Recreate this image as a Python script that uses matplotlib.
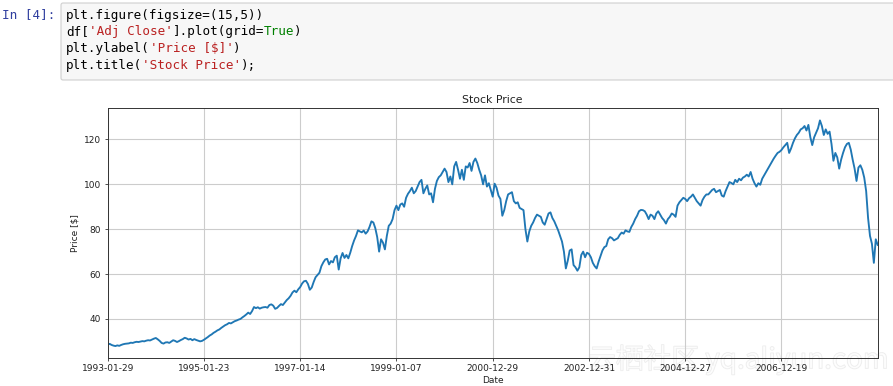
import numpy as np
import matplotlib
matplotlib.use('Agg')
import matplotlib.pyplot as plt
from matplotlib.patches import FancyBboxPatch
from matplotlib.transforms import IdentityTransform
import matplotlib.patheffects as pe

# ---------------- data ----------------
tick_dates = ['1993-01-29', '1995-01-23', '1997-01-14', '1999-01-07',
              '2000-12-29', '2002-12-31', '2004-12-27', '2006-12-19']
tick_rows = [0, 500, 1000, 1500, 2000, 2500, 3000, 3500]   # row number of each date
sample_every = 10                                          # trading days between stored prices
n_rows = 4001

adj_close_1993_1996 = [
    28.5, 28.9, 28.4, 28.1, 27.9, 28.2, 28.0, 28.4, 28.7, 28.9, 29.0,
    29.1, 29.4, 29.3, 29.6, 29.8, 29.7, 29.9, 30.1, 30.0, 30.3,
    30.5, 30.4, 30.8, 31.2, 31.5, 30.9, 30.2, 29.3, 29.0, 29.5,
    29.6, 29.3, 29.9, 30.5, 30.2, 29.7, 30.1, 30.6, 31.0, 31.6,
    31.3, 30.8, 31.1, 30.5, 31.0, 30.6, 30.3, 30.0, 30.2, 30.7,
    31.3, 31.9, 32.6, 33.1, 33.8, 34.3, 34.9, 35.3, 36.0, 36.6,
    37.2, 37.6, 38.2, 38.0, 38.5, 39.0, 39.3, 39.7, 40.0, 40.7,
    41.3, 42.0, 42.8, 42.2, 43.5, 45.3, 44.8, 45.2, 44.6, 45.0, 45.2,
]
adj_close_1996_1999 = [
    45.3, 45.0, 46.2, 46.5, 45.9, 44.5, 44.9, 45.8, 46.6, 46.2,
    47.3, 48.4, 49.2, 50.3, 51.8, 52.6, 51.9, 53.2, 54.2, 55.8,
    56.8, 57.0, 55.6, 53.0, 54.0, 56.5, 58.6, 59.6, 60.6, 63.5,
    65.2, 66.5, 66.8, 64.3, 65.8, 65.2, 67.5, 68.2, 62.0, 67.0,
    69.4, 67.2, 68.5, 67.0, 69.5, 72.5, 75.0, 77.0, 79.5, 79.0,
    78.6, 79.4, 78.0, 79.0, 81.0, 83.5, 83.0, 80.5, 76.5, 70.0,
    75.5, 74.0, 71.0, 77.0, 81.5, 82.5, 84.5, 88.5, 90.5, 88.5,
    91.0, 91.5, 90.0, 94.0, 95.8, 97.0, 98.5, 96.0, 97.0, 99.0, 101.0,
]
adj_close_1999_2002 = [
    102.0, 96.0, 98.0, 99.5, 95.5, 96.0, 92.0, 98.0, 101.5, 103.2,
    104.0, 105.5, 107.0, 105.5, 101.0, 103.5, 100.0, 108.0, 110.0, 106.5,
    102.5, 106.5, 102.0, 108.0, 107.5, 109.5, 106.0, 110.0, 111.5, 109.5,
    106.5, 104.0, 100.0, 104.0, 99.0, 100.5, 97.5, 94.5, 100.3, 98.5,
    95.0, 93.5, 86.0, 88.5, 92.5, 95.5, 96.0, 96.5, 92.5, 91.5,
    92.0, 89.5, 89.0, 88.5, 80.0, 74.5, 79.0, 81.5, 83.0, 85.0,
    86.5, 86.0, 85.5, 83.0, 82.0, 84.5, 87.0, 87.5, 85.0, 83.5,
    81.5, 79.5, 77.0, 74.5, 70.0, 62.5, 66.0, 70.5, 71.0, 64.0,
]
adj_close_2002_2005 = [
    63.0, 61.5, 63.0, 68.5, 70.0, 67.5, 69.5, 69.0, 67.5, 65.0,
    63.5, 62.5, 65.5, 68.0, 70.5, 72.0, 72.5, 75.5, 76.5, 76.0,
    75.0, 75.5, 76.0, 77.5, 78.5, 78.0, 79.5, 79.0, 78.8, 81.0,
    82.5, 84.5, 86.0, 88.0, 88.6, 88.5, 88.0, 86.5, 84.5, 86.5,
    86.0, 84.5, 87.0, 88.0, 86.5, 85.0, 84.0, 82.5, 84.5, 85.5,
    87.0, 86.5, 85.5, 90.5, 92.0, 93.0, 94.0, 93.5, 92.5, 93.8,
    94.5, 95.5, 94.0, 92.5, 91.5, 90.5, 93.0, 94.5, 95.5, 95.5,
    96.5, 97.5, 98.0, 96.5, 97.0, 97.5, 95.0, 94.5, 97.0, 99.0, 101.0,
]
adj_close_2005_2008 = [
    100.6, 100.0, 102.0, 101.0, 102.5, 101.8, 103.0, 103.5, 104.3, 103.5,
    105.5, 102.5, 100.5, 99.0, 100.5, 99.8, 102.5, 104.0, 105.5, 107.0,
    108.5, 110.0, 111.5, 112.8, 114.0, 114.5, 115.3, 116.5, 117.5, 118.5,
    114.0, 116.0, 118.5, 120.5, 122.0, 123.0, 124.5, 125.0, 126.0, 124.0,
    126.5, 121.0, 117.5, 121.0, 123.0, 125.0, 128.5, 126.0, 122.0, 124.5,
    122.5, 123.5, 118.0, 110.5, 114.0, 112.0, 107.0, 111.0, 114.0, 116.5,
    118.0, 118.5, 115.5, 111.0, 107.0, 101.5, 107.5, 108.5, 106.5, 103.0,
    97.0, 85.0, 77.0, 73.5, 65.0, 75.5, 73.0,
]
adj_close = (adj_close_1993_1996 + adj_close_1996_1999 + adj_close_1999_2002
             + adj_close_2002_2005 + adj_close_2005_2008)

# ---------------- figure ----------------
W, H = 893, 386
fig = plt.figure(figsize=(W / 100, H / 100), dpi=100)
fig.patch.set_facecolor('white')
px = IdentityTransform()

# notebook code cell
fig.patches.append(FancyBboxPatch((61, H - 80), 840, 77,
                                  boxstyle='round,pad=0,rounding_size=2',
                                  facecolor='#f7f7f7', edgecolor='#cfcfcf',
                                  linewidth=0.8, transform=px, figure=fig))
mono = 'DejaVu Sans Mono'
fs_code = 9.1
char_w = 7.6
fig.text(2, H - 15, 'In [4]:', transform=px, fontsize=fs_code, family=mono,
         color='#303F9F', va='center', ha='left', parse_math=False)
BLACK, RED, GREEN = '#000000', '#BA2121', '#008000'
code_lines = [
    [("plt.figure(figsize=(15,5))", BLACK)],
    [("df[", BLACK), ("'Adj Close'", RED), ("].plot(grid=", BLACK), ("True", GREEN), (")", BLACK)],
    [("plt.ylabel(", BLACK), ("'Price [$]'", RED), (")", BLACK)],
    [("plt.title(", BLACK), ("'Stock Price'", RED), (");", BLACK)],
]
line_y = [15, 31.8, 48.5, 65.2]
for segs, yy in zip(code_lines, line_y):
    col = 0
    for s, c in segs:
        fig.text(66 + col * char_w, H - yy, s, transform=px, fontsize=fs_code,
                 family=mono, color=c, va='center', ha='left', parse_math=False)
        col += len(s)

# chart axes
left, right, top, bottom = 107.7, 877.7, 108.3, 357.5
ax = fig.add_axes([left / W, 1 - bottom / H, (right - left) / W, (bottom - top) / H])
ax.patch.set_alpha(0.0)
x_rows = np.arange(len(adj_close)) * sample_every
ax.plot(x_rows, adj_close, color='#1f77b4', linewidth=1.35)
ax.set_xlim(0, n_rows - 1)
ax.set_ylim(22.8, 133.9)
ax.set_xticks(tick_rows)
ax.set_xticklabels(tick_dates)
ax.set_yticks([40, 60, 80, 100, 120])
ax.grid(True, color='#cccccc', linewidth=0.8)
ax.set_axisbelow(True)
for sp in ax.spines.values():
    sp.set_linewidth(0.7)
    sp.set_color('#333333')
ax.tick_params(labelsize=6.5, length=2.5, width=0.6, pad=2.5, colors='#333333',
               labelcolor='#222222')
ax.set_title('Stock Price', fontsize=7.8, pad=4, color='#222222')
ax.set_ylabel('Price [$]', fontsize=6.5, labelpad=3, color='#222222')
ax.set_xlabel('Date', fontsize=6.5, labelpad=1.5, color='#222222')

# faint watermark, drawn beneath the chart
fig.text(588, H - 360, '云栖社区 yq.aliyun.com', transform=px, fontsize=20,
         family=['Noto Sans CJK SC', 'DejaVu Sans'], color='white', alpha=0.6,
         va='center', ha='left', zorder=-5,
         path_effects=[pe.withStroke(linewidth=0.9, foreground='#dedede')])

fig.savefig('out.png', dpi=100)
